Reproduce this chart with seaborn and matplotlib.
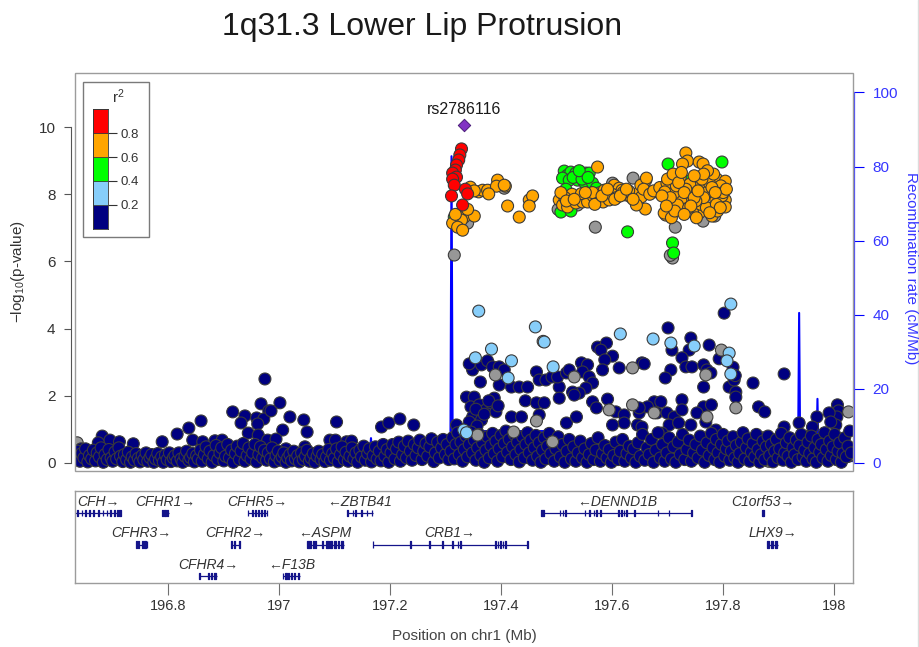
import matplotlib
matplotlib.use("Agg")
import matplotlib.pyplot as plt
from matplotlib.patches import Rectangle
from matplotlib.lines import Line2D
import pandas as pd
import seaborn as sns

sns.set_theme(style="ticks")
plt.rcParams["font.family"] = ["Liberation Sans", "DejaVu Sans"]
plt.rcParams["mathtext.fontset"] = "custom"
plt.rcParams["mathtext.rm"] = "Liberation Sans"
plt.rcParams["mathtext.it"] = "Liberation Sans:italic"
plt.rcParams["mathtext.default"] = "regular"

# ------------------------------------------------------------------ data
TITLE = "1q31.3 Lower Lip Protrusion"
CHROM_LABEL = "Position on chr1 (Mb)"
REGION = (196.633, 198.034)

lead_name = "rs2786116"
lead_pos = 197.333
lead_logp = 10.06

# (position Mb, -log10 p) grouped by LD r^2 with the lead SNP
snps_r2_08 = [(197.329, 9.35), (197.326, 9.17), (197.324, 9.02), (197.320, 8.87), (197.318, 8.72),
              (197.313, 8.63), (197.320, 8.51), (197.313, 8.45), (197.316, 8.27), (197.336, 8.15),
              (197.340, 8.01), (197.311, 7.95), (197.331, 7.68)]

snps_r2_06 = [(197.345, 8.21), (197.331, 7.47), (197.334, 7.32), (197.352, 7.35), (197.329, 7.23),
              (197.313, 7.14), (197.322, 7.02), (197.331, 6.93), (197.360, 8.07), (197.367, 8.12),
              (197.376, 8.12), (197.394, 8.42), (197.392, 8.24), (197.408, 8.24), (197.412, 7.65),
              (197.378, 8.01), (197.352, 8.10), (197.433, 7.32), (197.406, 8.27), (197.451, 7.83),
              (197.457, 7.95), (197.451, 7.65), (197.318, 7.40), (197.340, 7.55),
              (197.505, 7.83), (197.511, 7.68), (197.520, 7.62), (197.529, 7.92), (197.541, 7.95),
              (197.553, 7.92), (197.562, 7.89), (197.572, 7.83), (197.577, 8.04), (197.586, 8.12),
              (197.590, 7.98), (197.598, 7.92), (197.604, 8.27), (197.613, 8.18), (197.618, 8.12),
              (197.625, 7.98), (197.634, 7.92), (197.643, 7.98), (197.648, 8.04), (197.653, 7.92),
              (197.661, 8.42), (197.652, 8.27), (197.681, 8.07), (197.690, 8.07), (197.584, 7.77),
              (197.595, 7.83), (197.535, 7.74), (197.547, 7.77), (197.556, 7.77), (197.566, 7.95),
              (197.574, 8.81), (197.660, 7.56), (197.644, 7.68), (197.662, 8.48), (197.697, 7.38),
              (197.694, 7.44), (197.528, 8.00), (197.600, 8.00), (197.608, 7.90), (197.620, 8.05),
              (197.630, 8.10), (197.515, 7.90), (197.545, 8.02), (197.565, 8.05),
              (197.508, 8.05), (197.518, 7.80), (197.532, 7.85), (197.552, 8.05), (197.569, 7.70),
              (197.582, 7.95), (197.592, 8.15), (197.605, 7.85), (197.615, 7.95), (197.626, 8.15),
              (197.638, 7.85), (197.657, 8.15), (197.668, 8.00), (197.675, 8.10), (197.686, 8.20),
              (197.699, 8.33), (197.723, 8.51), (197.733, 9.23), (197.736, 8.99), (197.727, 8.90),
              (197.757, 8.96), (197.764, 8.90), (197.757, 8.39), (197.771, 8.27), (197.789, 8.45),
              (197.804, 8.39), (197.804, 7.83), (197.804, 7.62), (197.780, 7.35), (197.757, 7.44),
              (197.745, 7.47), (197.736, 7.77), (197.724, 7.80), (197.712, 8.04), (197.695, 8.07),
              (197.780, 8.04), (197.769, 8.04), (197.787, 7.83), (197.792, 8.10), (197.796, 8.25),
              (197.750, 8.20), (197.740, 8.30), (197.745, 8.00), (197.760, 7.70), (197.770, 7.60),
              (197.728, 7.55), (197.718, 7.68), (197.705, 7.90), (197.790, 7.50), (197.798, 7.95),
              (197.775, 8.35), (197.783, 8.60), (197.765, 7.90), (197.751, 7.80), (197.733, 8.15),
              (197.716, 8.25), (197.707, 7.30), (197.700, 8.45), (197.710, 8.60), (197.720, 8.35),
              (197.730, 8.05), (197.738, 7.60), (197.748, 7.90), (197.755, 8.10), (197.762, 8.45),
              (197.772, 8.70), (197.780, 8.20), (197.788, 7.70), (197.795, 7.60), (197.800, 8.05),
              (197.806, 8.15), (197.776, 7.45), (197.752, 7.30), (197.742, 7.65), (197.725, 8.65),
              (197.713, 7.50), (197.730, 7.40), (197.690, 7.95), (197.698, 7.65), (197.765, 8.60),
              (197.786, 8.05), (197.748, 8.55)]

snps_r2_04 = [(197.316, 7.32), (197.514, 8.69), (197.520, 8.57), (197.526, 8.66), (197.535, 8.63),
              (197.544, 8.57), (197.553, 8.63), (197.559, 8.63), (197.511, 8.48), (197.523, 8.42),
              (197.538, 8.42), (197.550, 8.36), (197.565, 8.33), (197.572, 8.18), (197.517, 8.15),
              (197.508, 7.47), (197.526, 7.50), (197.628, 6.88), (197.709, 6.55), (197.711, 6.25),
              (197.701, 8.90), (197.798, 8.96), (197.530, 8.50), (197.546, 8.45), (197.541, 8.70),
              (197.557, 8.50), (197.690, 8.15), (197.742, 8.42)]

snps_r2_02 = [(197.360, 4.52), (197.462, 4.05), (197.478, 3.60), (197.383, 3.39), (197.354, 3.13),
              (197.419, 3.04), (197.413, 2.53), (197.494, 2.86), (197.615, 3.84), (197.333, 0.98),
              (197.814, 4.73), (197.674, 3.69), (197.706, 3.57), (197.748, 3.48), (197.811, 3.27),
              (197.807, 3.04), (197.814, 2.65), (197.338, 0.90)]

snps_r2_00 = [
    # scattered points left of the lead SNP
    (196.975, 2.50), (196.968, 1.76), (196.982, 1.55), (196.917, 1.52), (196.939, 1.40),
    (196.932, 1.19), (196.960, 1.34), (196.973, 1.31), (196.962, 1.16), (196.860, 1.25),
    (196.838, 1.04), (196.817, 0.86), (196.945, 0.89), (196.963, 0.83), (196.682, 0.80),
    (196.696, 0.68), (196.713, 0.63), (196.738, 0.57), (196.790, 0.63), (196.644, 0.42),
    (196.980, 0.68), (196.675, 0.60), (196.845, 0.68), (196.863, 0.63), (196.885, 0.66),
    (196.898, 0.68), (197.002, 1.79), (196.986, 1.55), (197.020, 1.37), (197.045, 1.28),
    (197.007, 0.98), (197.051, 0.92), (197.104, 1.22), (196.995, 0.71), (197.185, 1.07),
    (197.198, 1.19), (197.218, 1.31), (197.243, 1.13), (197.013, 0.42), (197.047, 0.48),
    (197.092, 0.68), (197.102, 0.68), (197.122, 0.63), (197.131, 0.65), (197.338, 1.96),
    (197.320, 1.13),
    # scattered points right of the lead SNP
    (197.349, 2.77), (197.343, 2.95), (197.365, 2.92), (197.376, 3.04), (197.385, 2.86),
    (197.397, 2.86), (197.406, 2.77), (197.363, 2.41), (197.397, 2.32), (197.419, 2.26),
    (197.433, 2.26), (197.448, 2.26), (197.464, 2.71), (197.469, 2.47), (197.481, 2.47),
    (197.492, 2.56), (197.505, 2.26), (197.502, 2.56), (197.518, 2.68), (197.523, 2.77),
    (197.545, 2.98), (197.556, 2.92), (197.547, 2.71), (197.559, 2.56), (197.565, 2.38),
    (197.553, 2.23), (197.541, 2.08), (197.529, 2.11), (197.574, 3.45), (197.590, 3.57),
    (197.580, 3.36), (197.601, 3.18), (197.587, 3.07), (197.583, 2.77), (197.613, 2.83),
    (197.654, 2.98), (197.352, 1.96), (197.346, 1.67), (197.361, 1.73), (197.373, 1.58),
    (197.382, 1.79), (197.391, 1.52), (197.388, 1.93), (197.349, 1.37), (197.343, 1.22),
    (197.365, 1.28), (197.419, 1.37), (197.437, 1.37), (197.444, 1.85), (197.464, 1.79),
    (197.478, 1.79), (197.469, 1.43), (197.518, 1.19), (197.536, 1.37), (197.505, 1.93),
    (197.532, 2.02), (197.565, 1.82), (197.592, 1.90), (197.572, 1.64), (197.607, 1.52),
    (197.622, 1.43), (197.649, 1.49), (197.622, 1.19), (197.646, 1.13), (197.601, 1.13),
    (197.355, 1.60), (197.370, 1.45), (197.378, 1.85), (197.357, 1.10), (197.395, 1.70),
    (197.802, 4.46), (197.701, 4.02), (197.742, 3.72), (197.708, 3.36), (197.775, 3.51),
    (197.739, 3.36), (197.726, 3.13), (197.733, 2.86), (197.744, 2.86), (197.765, 2.92),
    (197.771, 2.77), (197.778, 2.68), (197.793, 3.10), (197.658, 2.95), (197.706, 2.77),
    (197.696, 2.53), (197.765, 2.26), (197.811, 2.26), (197.820, 2.47), (197.823, 2.11),
    (197.823, 1.96), (197.854, 2.38), (197.910, 2.65), (197.864, 1.67), (197.875, 1.52),
    (197.910, 1.07), (197.937, 1.19), (197.969, 1.37), (198.006, 1.73), (198.008, 1.55),
    (198.005, 1.37), (198.003, 1.13), (197.991, 1.49), (197.994, 1.22), (197.961, 1.07),
    (197.676, 1.82), (197.664, 1.67), (197.688, 1.82), (197.681, 1.49), (197.699, 1.49),
    (197.712, 1.37), (197.703, 1.13), (197.726, 1.88), (197.726, 1.58), (197.765, 1.67),
    (197.779, 1.73), (197.753, 1.49), (197.742, 1.13), (197.720, 1.19), (197.690, 0.89),
    (197.654, 1.07), (197.649, 1.64), (197.787, 0.98), (197.769, 1.22), (197.818, 2.85),
    (197.822, 2.60),
    # dense low band, left of the lead SNP
    (196.635, 0.10), (196.638, 0.35), (196.642, 0.05), (196.645, 0.28), (196.649, 0.15),
    (196.652, 0.42), (196.656, 0.03), (196.659, 0.22), (196.663, 0.12), (196.666, 0.38),
    (196.670, 0.06), (196.673, 0.30), (196.677, 0.18), (196.680, 0.45), (196.684, 0.02),
    (196.687, 0.25), (196.691, 0.10), (196.694, 0.40), (196.698, 0.15), (196.701, 0.05),
    (196.705, 0.33), (196.708, 0.12), (196.712, 0.45), (196.715, 0.20), (196.719, 0.04),
    (196.722, 0.25), (196.726, 0.10), (196.729, 0.32), (196.733, 0.02), (196.736, 0.18),
    (196.740, 0.08), (196.743, 0.28), (196.747, 0.14), (196.750, 0.03), (196.754, 0.22),
    (196.757, 0.10), (196.761, 0.30), (196.764, 0.05), (196.768, 0.16), (196.771, 0.25),
    (196.775, 0.02), (196.778, 0.12), (196.782, 0.28), (196.785, 0.07), (196.789, 0.18),
    (196.792, 0.02), (196.796, 0.24), (196.799, 0.10), (196.803, 0.30), (196.806, 0.04),
    (196.810, 0.15), (196.813, 0.22), (196.817, 0.06), (196.820, 0.30), (196.824, 0.12),
    (196.827, 0.02), (196.831, 0.20), (196.834, 0.35), (196.838, 0.08), (196.841, 0.16),
    (196.845, 0.28), (196.848, 0.03), (196.852, 0.22), (196.855, 0.12), (196.859, 0.38),
    (196.862, 0.05), (196.866, 0.25), (196.869, 0.48), (196.873, 0.12), (196.876, 0.35),
    (196.880, 0.02), (196.883, 0.22), (196.887, 0.52), (196.890, 0.10), (196.894, 0.30),
    (196.897, 0.45), (196.901, 0.06), (196.904, 0.20), (196.908, 0.55), (196.911, 0.15),
    (196.915, 0.38), (196.918, 0.02), (196.922, 0.28), (196.925, 0.50), (196.929, 0.10),
    (196.932, 0.35), (196.936, 0.58), (196.939, 0.05), (196.943, 0.22), (196.946, 0.45),
    (196.950, 0.12), (196.953, 0.30), (196.957, 0.55), (196.960, 0.03), (196.964, 0.25),
    (196.967, 0.48), (196.971, 0.15), (196.974, 0.38), (196.978, 0.08), (196.981, 0.30),
    (196.985, 0.12), (196.988, 0.45), (196.992, 0.03), (196.995, 0.22), (196.999, 0.35),
    (197.002, 0.08), (197.006, 0.18), (197.009, 0.30), (197.013, 0.02), (197.016, 0.15),
    (197.020, 0.25), (197.023, 0.06), (197.027, 0.35), (197.030, 0.12), (197.034, 0.22),
    (197.037, 0.03), (197.041, 0.30), (197.044, 0.10), (197.048, 0.20), (197.051, 0.38),
    (197.055, 0.05), (197.058, 0.15), (197.062, 0.28), (197.065, 0.02), (197.069, 0.20),
    (197.072, 0.35), (197.076, 0.10), (197.079, 0.25), (197.083, 0.04), (197.086, 0.18),
    (197.090, 0.40), (197.093, 0.08), (197.097, 0.28), (197.100, 0.14), (197.104, 0.42),
    (197.107, 0.03), (197.111, 0.25), (197.114, 0.48), (197.118, 0.10), (197.121, 0.32),
    (197.125, 0.05), (197.128, 0.20), (197.132, 0.45), (197.135, 0.12), (197.139, 0.30),
    (197.142, 0.02), (197.146, 0.38), (197.149, 0.18), (197.153, 0.50), (197.156, 0.08),
    (197.160, 0.28), (197.163, 0.42), (197.167, 0.03), (197.170, 0.22), (197.174, 0.48),
    (197.177, 0.12), (197.181, 0.35), (197.184, 0.06), (197.188, 0.55), (197.191, 0.20),
    (197.195, 0.40), (197.198, 0.02), (197.202, 0.30), (197.205, 0.55), (197.209, 0.12),
    (197.212, 0.42), (197.216, 0.62), (197.219, 0.05), (197.223, 0.25), (197.226, 0.50),
    (197.230, 0.15), (197.233, 0.65), (197.237, 0.35), (197.240, 0.08), (197.244, 0.55),
    (197.247, 0.22), (197.251, 0.45), (197.254, 0.68), (197.258, 0.10), (197.261, 0.35),
    (197.265, 0.58), (197.268, 0.20), (197.272, 0.48), (197.275, 0.72), (197.279, 0.04),
    (197.282, 0.30), (197.286, 0.62), (197.289, 0.15), (197.293, 0.45), (197.296, 0.70),
    (197.300, 0.25), (197.303, 0.55), (197.306, 0.10),
    # dense low band, right of the lead SNP
    (197.310, 0.35), (197.313, 0.75), (197.316, 0.12), (197.319, 0.55), (197.322, 0.90),
    (197.325, 0.25), (197.328, 0.62), (197.331, 0.05), (197.334, 0.40), (197.337, 0.80),
    (197.340, 0.18), (197.343, 0.55), (197.346, 0.92), (197.349, 0.30), (197.352, 0.68),
    (197.355, 0.08), (197.358, 0.45), (197.361, 0.85), (197.364, 0.22), (197.367, 0.60),
    (197.370, 0.02), (197.373, 0.38), (197.376, 0.78), (197.379, 0.15), (197.382, 0.52),
    (197.385, 0.88), (197.388, 0.28), (197.391, 0.65), (197.394, 0.05), (197.397, 0.42),
    (197.400, 0.82), (197.403, 0.18), (197.406, 0.58), (197.409, 0.95), (197.412, 0.32),
    (197.415, 0.70), (197.418, 0.10), (197.421, 0.48), (197.424, 0.85), (197.427, 0.25),
    (197.430, 0.62), (197.433, 0.03), (197.436, 0.40), (197.439, 0.78), (197.442, 0.15),
    (197.445, 0.55), (197.448, 0.90), (197.451, 0.30), (197.454, 0.68), (197.457, 0.08),
    (197.460, 0.45), (197.463, 0.82), (197.466, 0.20), (197.469, 0.60), (197.472, 0.02),
    (197.475, 0.38), (197.478, 0.75), (197.481, 0.12), (197.484, 0.50), (197.487, 0.88),
    (197.490, 0.28), (197.493, 0.62), (197.496, 0.05), (197.499, 0.42), (197.503, 0.78),
    (197.507, 0.18), (197.511, 0.55), (197.515, 0.02), (197.519, 0.35), (197.523, 0.70),
    (197.527, 0.12), (197.531, 0.48), (197.535, 0.05), (197.539, 0.30), (197.543, 0.65),
    (197.547, 0.15), (197.551, 0.42), (197.555, 0.02), (197.559, 0.25), (197.563, 0.58),
    (197.567, 0.10), (197.571, 0.38), (197.575, 0.75), (197.579, 0.05), (197.583, 0.28),
    (197.587, 0.52), (197.591, 0.15), (197.595, 0.40), (197.599, 0.02), (197.603, 0.22),
    (197.607, 0.62), (197.611, 0.10), (197.615, 0.35), (197.619, 0.70), (197.623, 0.05),
    (197.627, 0.28), (197.631, 0.50), (197.635, 0.15), (197.639, 0.42), (197.643, 0.02),
    (197.647, 0.60), (197.651, 0.20), (197.655, 0.85), (197.659, 0.08), (197.663, 0.45),
    (197.667, 0.25), (197.671, 0.70), (197.675, 0.02), (197.679, 0.38), (197.683, 0.90),
    (197.687, 0.15), (197.691, 0.55), (197.695, 0.05), (197.699, 0.30), (197.703, 0.75),
    (197.707, 0.12), (197.711, 0.48), (197.715, 0.02), (197.719, 0.62), (197.723, 0.25),
    (197.727, 0.85), (197.731, 0.10), (197.735, 0.40), (197.739, 0.68), (197.743, 0.05),
    (197.747, 0.30), (197.751, 0.55), (197.755, 0.15), (197.759, 0.80), (197.763, 0.38),
    (197.767, 0.02), (197.771, 0.60), (197.775, 0.22), (197.779, 0.88), (197.782, 0.45),
    (197.785, 0.10), (197.788, 0.70), (197.791, 0.30), (197.794, 0.02), (197.797, 0.55),
    (197.800, 0.85), (197.803, 0.20), (197.806, 0.42), (197.809, 0.65), (197.812, 0.08),
    (197.815, 0.35), (197.818, 0.78), (197.821, 0.15), (197.824, 0.52), (197.827, 0.02),
    (197.830, 0.28), (197.833, 0.62), (197.836, 0.90), (197.839, 0.12), (197.842, 0.45),
    (197.845, 0.72), (197.848, 0.05), (197.851, 0.32), (197.854, 0.58), (197.857, 0.18),
    (197.860, 0.85), (197.863, 0.40), (197.866, 0.02), (197.869, 0.25), (197.872, 0.65),
    (197.875, 0.10), (197.878, 0.48), (197.881, 0.80), (197.884, 0.22), (197.887, 0.55),
    (197.890, 0.03), (197.893, 0.35), (197.896, 0.70), (197.899, 0.15), (197.902, 0.42),
    (197.905, 0.88), (197.908, 0.08), (197.911, 0.30), (197.914, 0.60), (197.917, 0.20),
    (197.920, 0.75), (197.923, 0.02), (197.926, 0.45), (197.929, 0.25), (197.932, 0.68),
    (197.935, 0.10), (197.938, 0.52), (197.941, 0.85), (197.944, 0.18), (197.947, 0.38),
    (197.950, 0.05), (197.953, 0.62), (197.956, 0.28), (197.959, 0.80), (197.962, 0.12),
    (197.965, 0.45), (197.968, 0.02), (197.971, 0.70), (197.974, 0.32), (197.977, 0.55),
    (197.980, 0.15), (197.983, 0.90), (197.986, 0.40), (197.989, 0.05), (197.992, 0.65),
    (197.995, 0.22), (197.998, 0.48), (198.001, 0.85), (198.004, 0.10), (198.007, 0.35),
    (198.010, 0.60), (198.013, 0.02), (198.016, 0.28), (198.019, 0.75), (198.022, 0.18),
    (198.025, 0.50), (198.028, 0.95), (198.031, 0.30)]

# SNPs without LD information: low-band ones sit underneath the navy band
snps_r2_na_low = [(197.786, 0.35), (197.798, 0.15), (197.808, 0.60), (197.820, 0.40),
                  (197.832, 0.10), (197.845, 0.55), (197.858, 0.30), (197.870, 0.75),
                  (197.882, 0.05), (197.895, 0.50), (197.906, 0.25), (197.918, 0.65),
                  (197.930, 0.12), (197.943, 0.45), (197.955, 0.80), (197.967, 0.30),
                  (197.979, 0.60), (197.990, 0.20), (198.002, 0.45), (198.014, 0.70),
                  (198.026, 0.20), (196.650, 0.30), (196.700, 0.20), (196.760, 0.15),
                  (196.880, 0.25), (196.950, 0.20), (197.030, 0.10), (197.150, 0.25),
                  (197.250, 0.30), (197.360, 0.40), (197.420, 0.55), (197.560, 0.30),
                  (197.700, 0.45), (196.637, 0.60)]
snps_r2_na = [(197.316, 6.19), (197.570, 7.02), (197.714, 7.02), (197.709, 6.10), (197.705, 6.18),
              (197.638, 8.48), (197.538, 7.68), (197.601, 8.33), (197.666, 8.07), (197.764, 7.20),
              (197.406, 8.18), (197.340, 7.14), (197.503, 7.55), (197.735, 7.50), (197.785, 7.35),
              (197.476, 3.62), (197.637, 2.83), (197.532, 2.56), (197.464, 1.25), (197.595, 1.58),
              (197.637, 1.73), (197.358, 0.83), (197.423, 0.92), (197.493, 0.63), (197.769, 2.62),
              (197.797, 3.36), (197.823, 1.64), (197.771, 1.37), (198.026, 1.52), (197.676, 1.49),
              (197.390, 2.62)]

# recombination rate (cM/Mb)
recomb_pos = [196.633, 196.700, 196.800, 196.950, 197.050, 197.163, 197.166, 197.169, 197.250,
              197.309, 197.311, 197.313, 197.400, 197.479, 197.481, 197.600, 197.750, 197.850,
              197.935, 197.937, 197.939, 197.968, 197.970, 197.972, 198.034]
recomb_rate = [1.2, 0.8, 1.5, 0.9, 1.1, 1.0, 6.7, 1.0, 1.3,
               1.5, 82.8, 8.6, 8.6, 8.6, 0.4, 0.3, 0.2, 0.6,
               0.8, 40.5, 0.8, 0.6, 17.3, 0.7, 0.5]

# genes: name, start, end (Mb), display row, strand
gene_names = ["CFH", "CFHR1", "CFHR5", "ZBTB41", "DENND1B", "C1orf53",
              "CFHR3", "CFHR2", "ASPM", "CRB1", "LHX9", "CFHR4", "F13B"]
gene_start = [196.621, 196.790, 196.944, 197.122, 197.473, 197.870,
              196.743, 196.914, 197.050, 197.169, 197.879, 196.857, 197.007]
gene_end = [196.716, 196.802, 196.979, 197.169, 197.744, 197.874,
            196.763, 196.930, 197.117, 197.448, 197.899, 196.889, 197.038]
gene_row = [0, 0, 0, 0, 0, 0, 1, 1, 1, 1, 1, 2, 2]
gene_strand = ["+", "+", "+", "-", "-", "+", "+", "+", "-", "+", "+", "+", "-"]

# exons as (start Mb, width Mb)
gene_exons = {
    "CFH": [(196.621, 0.003), (196.636, 0.002), (196.645, 0.0012), (196.651, 0.0012),
            (196.659, 0.0012), (196.666, 0.0015), (196.675, 0.0012), (196.683, 0.0012),
            (196.690, 0.0015), (196.696, 0.0012), (196.704, 0.0012), (196.709, 0.002),
            (196.713, 0.0025)],
    "CFHR1": [(196.790, 0.0015), (196.794, 0.002), (196.798, 0.003)],
    "CFHR5": [(196.944, 0.0012), (196.951, 0.002), (196.957, 0.002), (196.962, 0.0025),
              (196.968, 0.0012), (196.974, 0.0015), (196.978, 0.0012)],
    "ZBTB41": [(197.122, 0.003), (197.133, 0.0015), (197.137, 0.0025), (197.148, 0.0012),
               (197.158, 0.0012), (197.167, 0.0015)],
    "DENND1B": [(197.473, 0.004), (197.506, 0.0012), (197.511, 0.0012), (197.516, 0.0012),
                (197.551, 0.0012), (197.559, 0.0012), (197.567, 0.0012), (197.572, 0.0012),
                (197.579, 0.0012), (197.611, 0.0012), (197.616, 0.0012), (197.621, 0.0012),
                (197.626, 0.0015), (197.640, 0.0015), (197.682, 0.0012), (197.702, 0.0015),
                (197.742, 0.0015)],
    "C1orf53": [(197.870, 0.0015), (197.872, 0.0015)],
    "CFHR3": [(196.743, 0.0012), (196.747, 0.0012), (196.753, 0.002), (196.758, 0.002),
              (196.762, 0.0012)],
    "CFHR2": [(196.914, 0.0012), (196.920, 0.0015), (196.928, 0.0015)],
    "ASPM": [(197.050, 0.008), (197.061, 0.003), (197.066, 0.0015), (197.077, 0.003),
             (197.085, 0.005), (197.093, 0.003), (197.099, 0.004), (197.106, 0.003),
             (197.112, 0.004)],
    "CRB1": [(197.169, 0.0012), (197.236, 0.0012), (197.271, 0.0015), (197.294, 0.0012),
             (197.312, 0.0012), (197.322, 0.0012), (197.326, 0.0012), (197.390, 0.0015),
             (197.394, 0.0015), (197.398, 0.0015), (197.403, 0.0015), (197.408, 0.0012),
             (197.447, 0.0012)],
    "LHX9": [(197.879, 0.003), (197.886, 0.004), (197.894, 0.003)],
    "CFHR4": [(196.857, 0.0012), (196.872, 0.0025), (196.878, 0.0025), (196.884, 0.003)],
    "F13B": [(197.007, 0.0012), (197.012, 0.002), (197.017, 0.002), (197.022, 0.0025),
             (197.028, 0.002), (197.034, 0.0025)],
}

x_ticks = [196.8, 197.0, 197.2, 197.4, 197.6, 197.8, 198.0]
x_tick_labels = ["196.8", "197", "197.2", "197.4", "197.6", "197.8", "198"]
logp_ticks = [0, 2, 4, 6, 8, 10]
recomb_ticks = [0, 20, 40, 60, 80, 100]
r2_edges = [0.0, 0.2, 0.4, 0.6, 0.8]
r2_tick_labels = ["0.2", "0.4", "0.6", "0.8"]

# ------------------------------------------------------------------ styling
LD_COLORS = {"NA": "#979797", "0.0-0.2": "#000080", "0.2-0.4": "#87CEFA",
             "0.4-0.6": "#00FF00", "0.6-0.8": "#FFA500", "0.8-1.0": "#FF0000"}
LEAD_COLOR = "#8233c4"
RECOMB_COLOR = "#0000FF"
RECOMB_TEXT = "#3535ff"
GENE_COLOR = "#14148a"
FRAME = "#9c9c9c"
TXT = "#333333"
LOGP_PER_100CM = 11.03      # left-axis height that matches 100 cM/Mb on the right axis
YLIM = (-0.24, 11.61)

W, H = 920, 647
def fx(px):
    return px / W
def fy(py):
    return 1 - py / H

fig = plt.figure(figsize=(W / 100, H / 100), dpi=100)
ax = fig.add_axes([fx(75), fy(471), fx(853) - fx(75), fy(73) - fy(471)])
ax2 = ax.twinx()
gax = fig.add_axes([fx(75), fy(583), fx(853) - fx(75), fy(491) - fy(583)])

# ---- association points (drawn low LD first, high LD on top)
groups = [("NA", snps_r2_na_low), ("0.0-0.2", snps_r2_00), ("NA", snps_r2_na),
          ("0.2-0.4", snps_r2_02), ("0.4-0.6", snps_r2_04), ("0.6-0.8", snps_r2_06),
          ("0.8-1.0", snps_r2_08)]
df = pd.concat([pd.DataFrame(pts, columns=["pos", "logp"]).assign(r2=key) for key, pts in groups],
               ignore_index=True)
sns.scatterplot(data=df, x="pos", y="logp", hue="r2", palette=LD_COLORS, s=74,
                edgecolor="#3a3a3a", linewidth=0.8, legend=False, ax=ax, zorder=3)
lead_df = pd.DataFrame({"pos": [lead_pos], "logp": [lead_logp]})
sns.scatterplot(data=lead_df, x="pos", y="logp", marker="D", s=40, color=LEAD_COLOR,
                edgecolor="#4a1d7a", linewidth=0.7, ax=ax, zorder=4, legend=False)
ax.annotate(lead_name, (lead_pos, lead_logp), xytext=(0, 11), textcoords="offset points",
            ha="center", va="center", fontsize=11.5, color="#1a1a1a")

# ---- recombination rate
sns.lineplot(x=recomb_pos, y=recomb_rate, ax=ax2, color=RECOMB_COLOR, linewidth=1.5,
             estimator=None, sort=False)

ax.set_zorder(ax2.get_zorder() + 1)
ax.patch.set_visible(False)

for a in (ax, ax2, gax):
    a.set_xlim(*REGION)
ax.set_ylim(*YLIM)
ax2.set_ylim(YLIM[0] * 100 / LOGP_PER_100CM, YLIM[1] * 100 / LOGP_PER_100CM)

ax.set_xlabel("")
ax.set_ylabel("")
ax2.set_ylabel("")
ax.set_xticks([])
ax2.set_xticks([])
ax.set_yticks(logp_ticks)
ax.set_yticklabels([str(t) for t in logp_ticks])
ax.tick_params(axis="y", direction="out", length=5, width=0.8, color="#555555",
               labelsize=11, labelcolor=TXT, pad=6)
for side in ("top", "right", "bottom"):
    ax.spines[side].set_visible(False)
ax.spines["left"].set_bounds(0, 10)
ax.spines["left"].set_position(("outward", 3))
ax.spines["left"].set_color("#555555")
ax.spines["left"].set_linewidth(0.8)
ax.add_patch(Rectangle((0, 0), 1, 1, transform=ax.transAxes, fill=False, ec=FRAME,
                       lw=1.0, clip_on=False, zorder=10))

ax2.set_yticks(recomb_ticks)
ax2.set_yticklabels([str(t) for t in recomb_ticks])
ax2.tick_params(axis="y", direction="out", length=7, width=0.8, color=RECOMB_COLOR,
                labelsize=11, labelcolor=RECOMB_TEXT, pad=6)
for side in ("top", "left", "bottom"):
    ax2.spines[side].set_visible(False)
ax2.spines["right"].set_bounds(0, 100)
ax2.spines["right"].set_position(("outward", 1))
ax2.spines["right"].set_color("#4a4aff")
ax2.spines["right"].set_linewidth(0.9)

# ---- gene track
gax.set_ylim(2.22, -0.70)
gax.set_yticks([])
for name, gs, ge, row, strand in zip(gene_names, gene_start, gene_end, gene_row, gene_strand):
    gax.hlines(row, gs, ge, color=GENE_COLOR, lw=0.9, zorder=2)
    gax.broken_barh(gene_exons[name], (row - 0.1, 0.2), facecolors=GENE_COLOR,
                    edgecolors=GENE_COLOR, linewidth=0.9, zorder=3)
    centre = (max(gs, REGION[0]) + min(ge, REGION[1])) / 2
    label = f"{name}\u2192" if strand == "+" else f"\u2190{name}"
    gax.text(centre, row - 0.36, label, ha="center", va="center", fontsize=10,
             style="italic", color=TXT)
for side in gax.spines.values():
    side.set_color(FRAME)
    side.set_linewidth(1.0)
gax.set_xticks(x_ticks)
gax.set_xticklabels(x_tick_labels)
gax.tick_params(axis="x", direction="out", length=8.5, width=0.8, color="#707070",
                labelsize=10.5, labelcolor=TXT, pad=3)

# ---- r^2 key
fig.add_artist(Rectangle((fx(83), fy(237)), fx(149) - fx(83), fy(82) - fy(237),
                         transform=fig.transFigure, fc="white", ec="#7a7a7a", lw=1.0, zorder=2))
lax = fig.add_axes([fx(93), fy(229), fx(108) - fx(93), fy(109) - fy(229)])
lax.set_zorder(3)
key_colors = [LD_COLORS[k] for k in ("0.0-0.2", "0.2-0.4", "0.4-0.6", "0.6-0.8", "0.8-1.0")]
lax.bar([0] * 5, [0.2] * 5, bottom=r2_edges, width=1.0, color=key_colors,
        edgecolor="#333333", linewidth=0.5)
lax.set_xlim(-0.5, 0.5)
lax.set_ylim(0, 1)
lax.set_xticks([])
lax.yaxis.tick_right()
lax.set_yticks([0.2, 0.4, 0.6, 0.8])
lax.set_yticklabels(r2_tick_labels)
lax.tick_params(axis="y", direction="out", length=6.5, width=0.8, color="#333333",
                labelsize=9.5, labelcolor=TXT, pad=2.5, left=False, right=True)
for side in lax.spines.values():
    side.set_color("#333333")
    side.set_linewidth(0.6)
fig.text(fx(118), fy(97), "r$^2$", ha="center", va="center", fontsize=11, color=TXT)

# ---- titles and axis labels
fig.text(fx(422), fy(27), TITLE, ha="center", va="center", fontsize=23, color="#1a1a1a")
fig.text(fx(18), fy(272), "\u2212log$_{10}$(p-value)", rotation=90, ha="center", va="center",
         fontsize=11, color=TXT)
fig.text(fx(911), fy(268), "Recombination rate (cM/Mb)", rotation=270, ha="center",
         va="center", fontsize=11, color=RECOMB_TEXT)
fig.text(fx(464), fy(636), CHROM_LABEL, ha="center", va="center", fontsize=11, color="#444444")
fig.add_artist(Line2D([fx(918), fx(918)], [0, 1], color="#dcdcdc", lw=1.0))

fig.savefig("out.png", dpi=100)
